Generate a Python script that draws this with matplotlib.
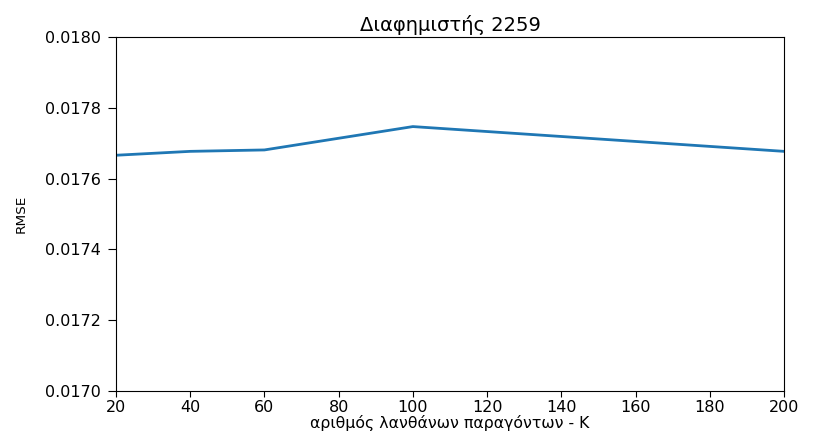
import matplotlib
matplotlib.use("Agg")
import matplotlib.pyplot as plt

k_values = [20, 40, 60, 100, 200]
rmse_values = [0.017666, 0.017677, 0.017681, 0.017747, 0.017677]

title = "Διαφημιστής 2259"
xlabel = "αριθμός λανθάνων παραγόντων - K"
ylabel = "RMSE"
x_ticks = [20, 40, 60, 80, 100, 120, 140, 160, 180, 200]
y_ticks = [0.0170, 0.0172, 0.0174, 0.0176, 0.0178, 0.0180]

fig = plt.figure(figsize=(8.18, 4.33), dpi=100)
ax = fig.add_axes([0.1418, 0.097, 0.8166, 0.8175])
ax.plot(k_values, rmse_values, color="#1f77b4", linewidth=2)
ax.set_xlim(20, 200)
ax.set_ylim(0.0170, 0.0180)
ax.set_xticks(x_ticks)
ax.set_yticks(y_ticks)
ax.set_yticklabels([f"{v:.4f}" for v in y_ticks])
ax.tick_params(axis="y", labelsize=11.5, length=6, pad=5)
ax.tick_params(axis="x", labelsize=11.5, length=4.5, pad=2)
ax.set_title(title, fontsize=14, pad=4)
ax.set_xlabel(xlabel, fontsize=11.3, labelpad=0)
ax.set_ylabel(ylabel, fontsize=9.7, labelpad=12)
fig.savefig("out.png", dpi=100)
